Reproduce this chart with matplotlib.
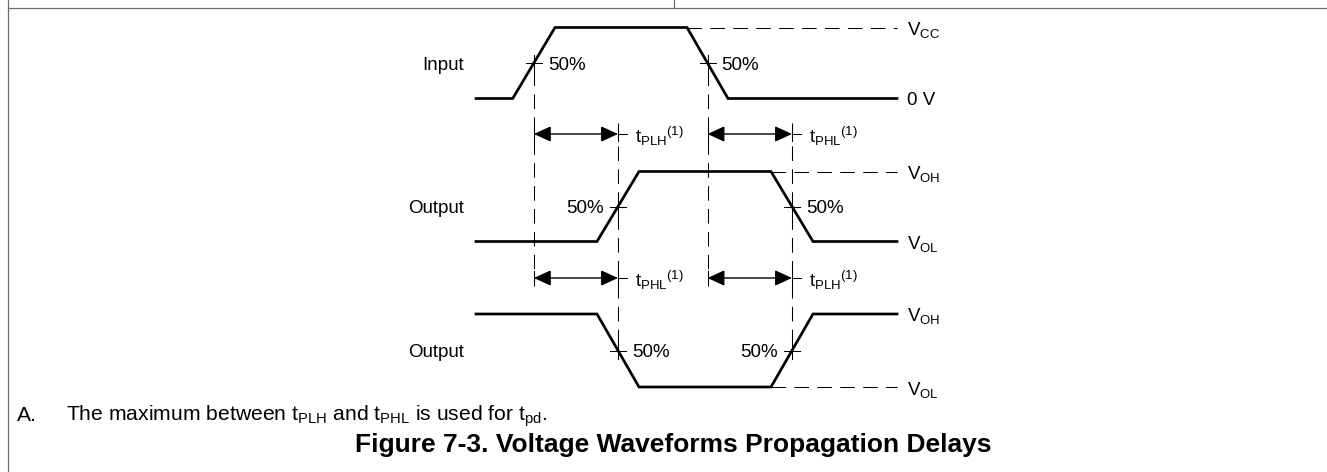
"""Voltage waveforms for propagation delay (timing diagram)."""
import matplotlib
matplotlib.use("Agg")
import matplotlib.pyplot as plt

plt.rcParams["font.family"] = ["Liberation Sans", "DejaVu Sans"]
plt.rcParams["mathtext.fontset"] = "custom"
plt.rcParams["mathtext.rm"] = "Liberation Sans"
plt.rcParams["mathtext.it"] = "Liberation Sans:italic"
plt.rcParams["mathtext.bf"] = "Liberation Sans:bold"
plt.rcParams["lines.scale_dashes"] = False

# edge breakpoints (time, px) and logic levels
IN_T = [476, 512.7, 555, 687, 728, 897]
IN_LEVEL = [0, 0, 1, 1, 0, 0]
OUT_T = [476, 597, 639, 771, 813, 897]
OUT1_LEVEL = [0, 0, 1, 1, 0, 0]
OUT2_LEVEL = [1, 1, 0, 0, 1, 1]

SIGNAL_NAMES = ["Input", "Output", "Output"]
HIGH_NAMES = [r"$\mathrm{V_{CC}}$", r"$\mathrm{V_{OH}}$", r"$\mathrm{V_{OH}}$"]
LOW_NAMES = ["0 V", r"$\mathrm{V_{OL}}$", r"$\mathrm{V_{OL}}$"]

ROW1_LABELS = [r"$\mathrm{t_{PLH}}^{\mathrm{(1)}}$", r"$\mathrm{t_{PHL}}^{\mathrm{(1)}}$"]
ROW2_LABELS = [r"$\mathrm{t_{PHL}}^{\mathrm{(1)}}$", r"$\mathrm{t_{PLH}}^{\mathrm{(1)}}$"]

# layout (pixel space)
W, H = 1327, 472
ROW_HIGH = [27.5, 171.5, 314]
ROW_LOW = [98.5, 241.5, 387]
ARROW_Y = [134, 278]
RIGHT_X = 907
NAME_X = 464

LW = 1.95
THIN = 0.75
DASH = (0, (10.5, 6))

fig = plt.figure(figsize=(W / 100, H / 100), dpi=100)
ax = fig.add_axes([0, 0, 1, 1])
ax.set_xlim(0, W)
ax.set_ylim(H, 0)
ax.axis("off")

# frame
ax.plot([8.3, 8.3], [0, H], color="#6e6e6e", lw=0.9)
ax.plot([8.3, W], [7.5, 7.5], color="#6e6e6e", lw=0.9)
ax.plot([674, 674], [0, 7.5], color="#6e6e6e", lw=0.9)


def level_y(levels, row):
    return [ROW_HIGH[row] if v else ROW_LOW[row] for v in levels]


def mid(t, i):
    return (t[i] + t[i + 1]) / 2


def cross(x, y):
    ax.plot([x - 8, x + 8], [y, y], color="black", lw=THIN)
    ax.plot([x, x], [y - 8, y + 8], color="black", lw=THIN)


waves = [(IN_T, IN_LEVEL), (OUT_T, OUT1_LEVEL), (OUT_T, OUT2_LEVEL)]
crossings = []
for row, (t, lev) in enumerate(waves):
    ys = level_y(lev, row)
    ax.plot(t, ys, color="black", lw=LW, solid_joinstyle="miter")
    ymid = (ROW_HIGH[row] + ROW_LOW[row]) / 2
    xs = [mid(t, 1), mid(t, 3)]
    crossings.append(xs)
    for x in xs:
        cross(x, ymid)
    # dashed reference level after the second edge
    ref = ROW_HIGH[row] if lev[2] else ROW_LOW[row]
    ax.plot([t[3], t[-1]], [ref, ref], color="black", lw=THIN, ls=DASH)
    ax.text(NAME_X, ymid, SIGNAL_NAMES[row], ha="right", va="center_baseline",
            fontsize=13.5)
    ax.text(RIGHT_X, ROW_HIGH[row], HIGH_NAMES[row], ha="left",
            va="center_baseline", fontsize=13.5)
    ax.text(RIGHT_X, ROW_LOW[row], LOW_NAMES[row], ha="left",
            va="center_baseline", fontsize=13.5)

# 50% labels: side of the cross each one sits on
PCT_SIDE = [[1, 1], [-1, 1], [1, -1]]
for row, xs in enumerate(crossings):
    ymid = (ROW_HIGH[row] + ROW_LOW[row]) / 2
    for x, side in zip(xs, PCT_SIDE[row]):
        ax.text(x + side * 14, ymid, "50%", ha="left" if side > 0 else "right",
                va="center_baseline", fontsize=13.5)

# vertical dashed guide lines
for x in crossings[0]:
    ax.plot([x, x], [63 + 8, ARROW_Y[1] + 8], color="black", lw=THIN, ls=DASH)
for x in crossings[1]:
    ax.plot([x, x], [ARROW_Y[0] - 11, (ROW_HIGH[2] + ROW_LOW[2]) / 2 - 8],
            color="black", lw=THIN, ls=DASH)

# delay arrows
for ay, labels in zip(ARROW_Y, [ROW1_LABELS, ROW2_LABELS]):
    for x0, x1, lab in zip(crossings[0], crossings[1], labels):
        ax.annotate("", xy=(x1, ay), xytext=(x0, ay),
                    arrowprops=dict(arrowstyle="<|-|>,head_length=1.05,head_width=0.48",
                                    mutation_scale=10, color="black", lw=1.0,
                                    shrinkA=0, shrinkB=0))
        ax.plot([x1, x1 + 9], [ay, ay], color="black", lw=THIN)
        ax.plot([x1, x1], [ay - 7, ay + 7], color="black", lw=THIN)
        ax.plot([x0, x0], [ay - 7, ay + 7], color="black", lw=THIN)
        ax.text(x1 + 17, ay, lab, ha="left", va="center_baseline", fontsize=13.5)

# note and caption
ax.text(17, 421, "A.", ha="left", va="baseline", fontsize=15.2)
ax.text(65.6, 421,
        r"The maximum between $\mathrm{t_{PLH}}$ and $\mathrm{t_{PHL}}$ is used for $\mathrm{t_{pd}}$.",
        ha="left", va="baseline", fontsize=15.2)
ax.text(673, 452, "Figure 7-3. Voltage Waveforms Propagation Delays",
        ha="center", va="baseline", fontsize=19, fontweight="bold")

fig.savefig("out.png", dpi=100)
plt.close(fig)
